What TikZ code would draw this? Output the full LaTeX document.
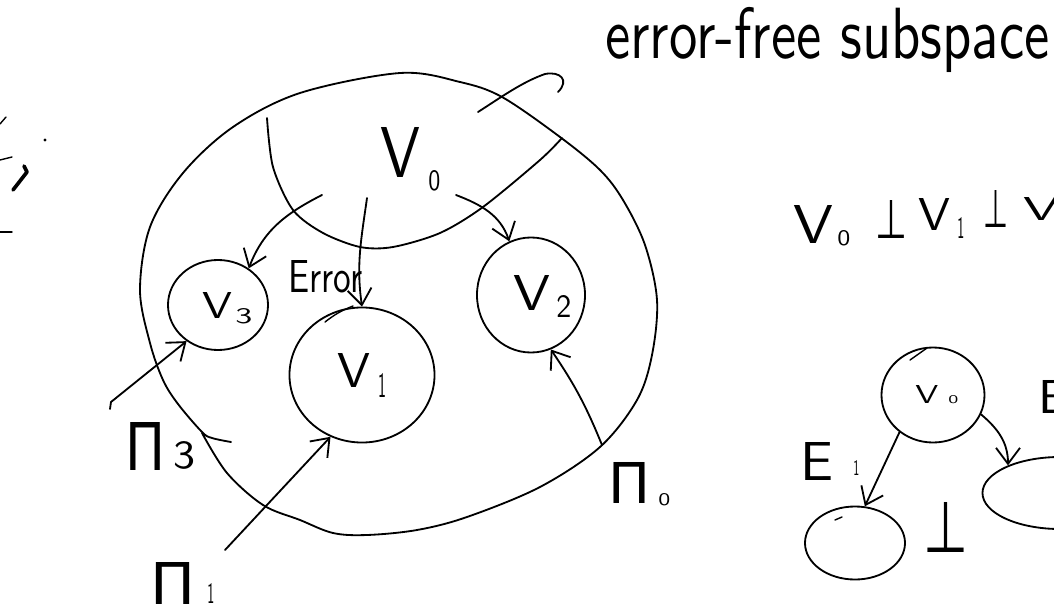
\documentclass[tikz,border=0pt]{standalone}
\usepackage{fontspec}
\newfontfamily\dv{DejaVu Sans}
\usetikzlibrary{arrows.meta,shapes.geometric}
\newlength\pxu
\setlength\pxu{0.025cm}
\newcommand\gly[3]{\resizebox{#1\pxu}{#2\pxu}{#3}}
\newcommand\lb[8]{\resizebox{#1\pxu}{#2\pxu}{#3}\kern#4\pxu\raisebox{#7\pxu}{\resizebox{#5\pxu}{#6\pxu}{#8}}}
\begin{document}
\begin{tikzpicture}[x=0.025cm,y=-0.025cm,line cap=round,line join=round,
  ink/.style={line width=1.3pt},
  thin ink/.style={line width=1pt},
  arr/.style={line width=1.3pt,-{Straight Barb[length=4mm,width=6mm]}},
  blob/.style={ellipse,draw,line width=1.3pt,inner sep=0pt},
  txt/.style={inner sep=0pt,font=\sffamily}]
\useasboundingbox (0,0) rectangle (1054,612);
\clip (0,0) rectangle (1054,612);

% left edge fragments
\draw[thin ink] (0,124) -- (6,117);
\fill (45,140) circle (1.6);
\draw[thin ink] (0,160) -- (12,157);
\draw[line width=2.6pt] (13,190) -- (27,172) -- (24,166);
\draw[thin ink] (0,232) -- (12,232);

% big space outline
\draw[ink] plot[smooth,tension=0.55] coordinates {(231,442) (212,438) (202,432) (178,404) (163,380) (150,343) (140,290) (150,227) (183,173) (233,127) (300,93) (400,73) (460,82) (502,97) (560,137) (600,170) (623,200) (645,245) (657,300) (652,355) (637,400) (600,447) (540,487) (467,517) (417,530) (367,535) (333,533) (300,520) (263,505) (227,473) (202,433)};

% error-free region
\draw[ink] plot[smooth] coordinates {(267,118) (273,167) (293,210) (323,233) (360,247) (393,247) (440,233) (483,207) (540,160) (562,138)};

% subspaces
\node[blob,minimum width=2.5cm,minimum height=2.25cm] (v3) at (218,305) {};
\node[blob,minimum width=3.625cm,minimum height=3.375cm] (v1) at (362,375) {};
\node[blob,minimum width=2.7cm,minimum height=2.875cm] (v2) at (531,295) {};
\draw[thin ink] (325,322) to[bend left=8] (353,306);

% labels
\node[txt,anchor=base west] (v0l) at (380,177) {\lb{40}{50}{V}{8}{12}{20}{-13}{0}};
\node[txt,anchor=base west] (v3l) at (202,318) {\lb{30}{26}{V}{3}{17}{15}{-5}{3}};
\node[txt,anchor=base west] (v1l) at (337,387) {\lb{33}{34}{V}{8}{8}{24}{-10}{1}};
\node[txt,anchor=base west] (v2l) at (513,310) {\lb{37}{35}{V}{6}{15}{22}{-7}{2}};
\node[txt,anchor=north west] (err) at (288,260) {\gly{74}{32}{Error}};
\node[txt,anchor=base west] (p3l) at (125,470) {\lb{40}{48}{\dv Π}{8}{22}{27}{2}{3}};
\node[txt,anchor=base west] (p1l) at (150,604) {\lb{45}{42}{\dv Π}{12}{7}{20}{1}{1}};
\node[txt,anchor=base west] (p0l) at (608,503) {\lb{42}{41}{\dv Π}{8}{12}{12}{-2}{0}};

% arrows inside
\coordinate (a3s) at (322,195);
\coordinate (a1s) at (367,198);
\coordinate (a2s) at (456,195);
\draw[arr] (a3s) to[out=207,in=69] (v3.50);
\draw[arr] (a1s) to[out=262,in=98] (v1.north);
\draw[arr] (a2s) to[out=339,in=109] (v2.112);

% projection arrows
\coordinate (p3s) at (110,409);
\coordinate (p3k) at (111,402);
\coordinate (p1s) at (225,550);
\coordinate (p0s) at (602,445);
\draw[arr] (p3s) -- (p3k) -- (v3.229);
\draw[arr] (p1s) -- (v1.243);
\draw[arr] (p0s) to[bend right=6] (v2.290);

% pointer to the error-free subspace text
\coordinate (ts) at (478,112);
\coordinate (tm) at (545,74);
\coordinate (te) at (558,92);
\draw[ink] (ts) .. controls (500,98) and (522,82) .. (tm) .. controls (560,71) and (570,80) .. (te);
\node[txt,anchor=north west] (eft) at (605,7) {\resizebox*{11.1cm}{1.63cm}{error-free subspace}};

% orthogonality relation
\node[txt,anchor=base west] (q0) at (793,243) {\lb{40}{38}{V}{4}{13}{15}{-2}{0}};
\node[txt,anchor=base west] (q1) at (875,238) {\gly{32}{38}{\dv ⊥}};
\node[txt,anchor=base west] (q2) at (918,230) {\lb{32}{32}{V}{7}{7}{21}{-8}{1}};
\node[txt,anchor=base west] (q3) at (983,227) {\gly{25}{37}{\dv ⊥}};
\node[txt,anchor=base west] (q4) at (1023,220) {\gly{36}{23}{V}};

% small diagram bottom right
\node[blob,minimum width=2.575cm,minimum height=2.375cm] (bv0) at (933,395) {};
\node[blob,minimum width=2.5cm,minimum height=1.825cm] (bl) at (855,543) {};
\node[blob,minimum width=3.875cm,minimum height=1.8cm] (br) at (1060,493) {};
\draw[thin ink] (910,360) -- (927,348);
\draw[thin ink] (835,520) -- (842,517);
\node[txt,anchor=base west] (bv0l) at (915,403) {\lb{23}{18}{V}{10}{10}{8}{0}{0}};
\node[txt,anchor=base west] (e1l) at (800,480) {\lb{33}{38}{E}{20}{6}{15}{5}{1}};
\node[txt,anchor=base west] (e2l) at (1038,413) {\gly{30}{33}{E}};
\node[txt,anchor=base west] (bperp) at (923,552) {\gly{45}{50}{\dv ⊥}};
\draw[arr] (bv0.228) -- (bl.75);
\draw[arr] (bv0.338) to[out=320,in=90] (br.152);
\end{tikzpicture}
\end{document}
